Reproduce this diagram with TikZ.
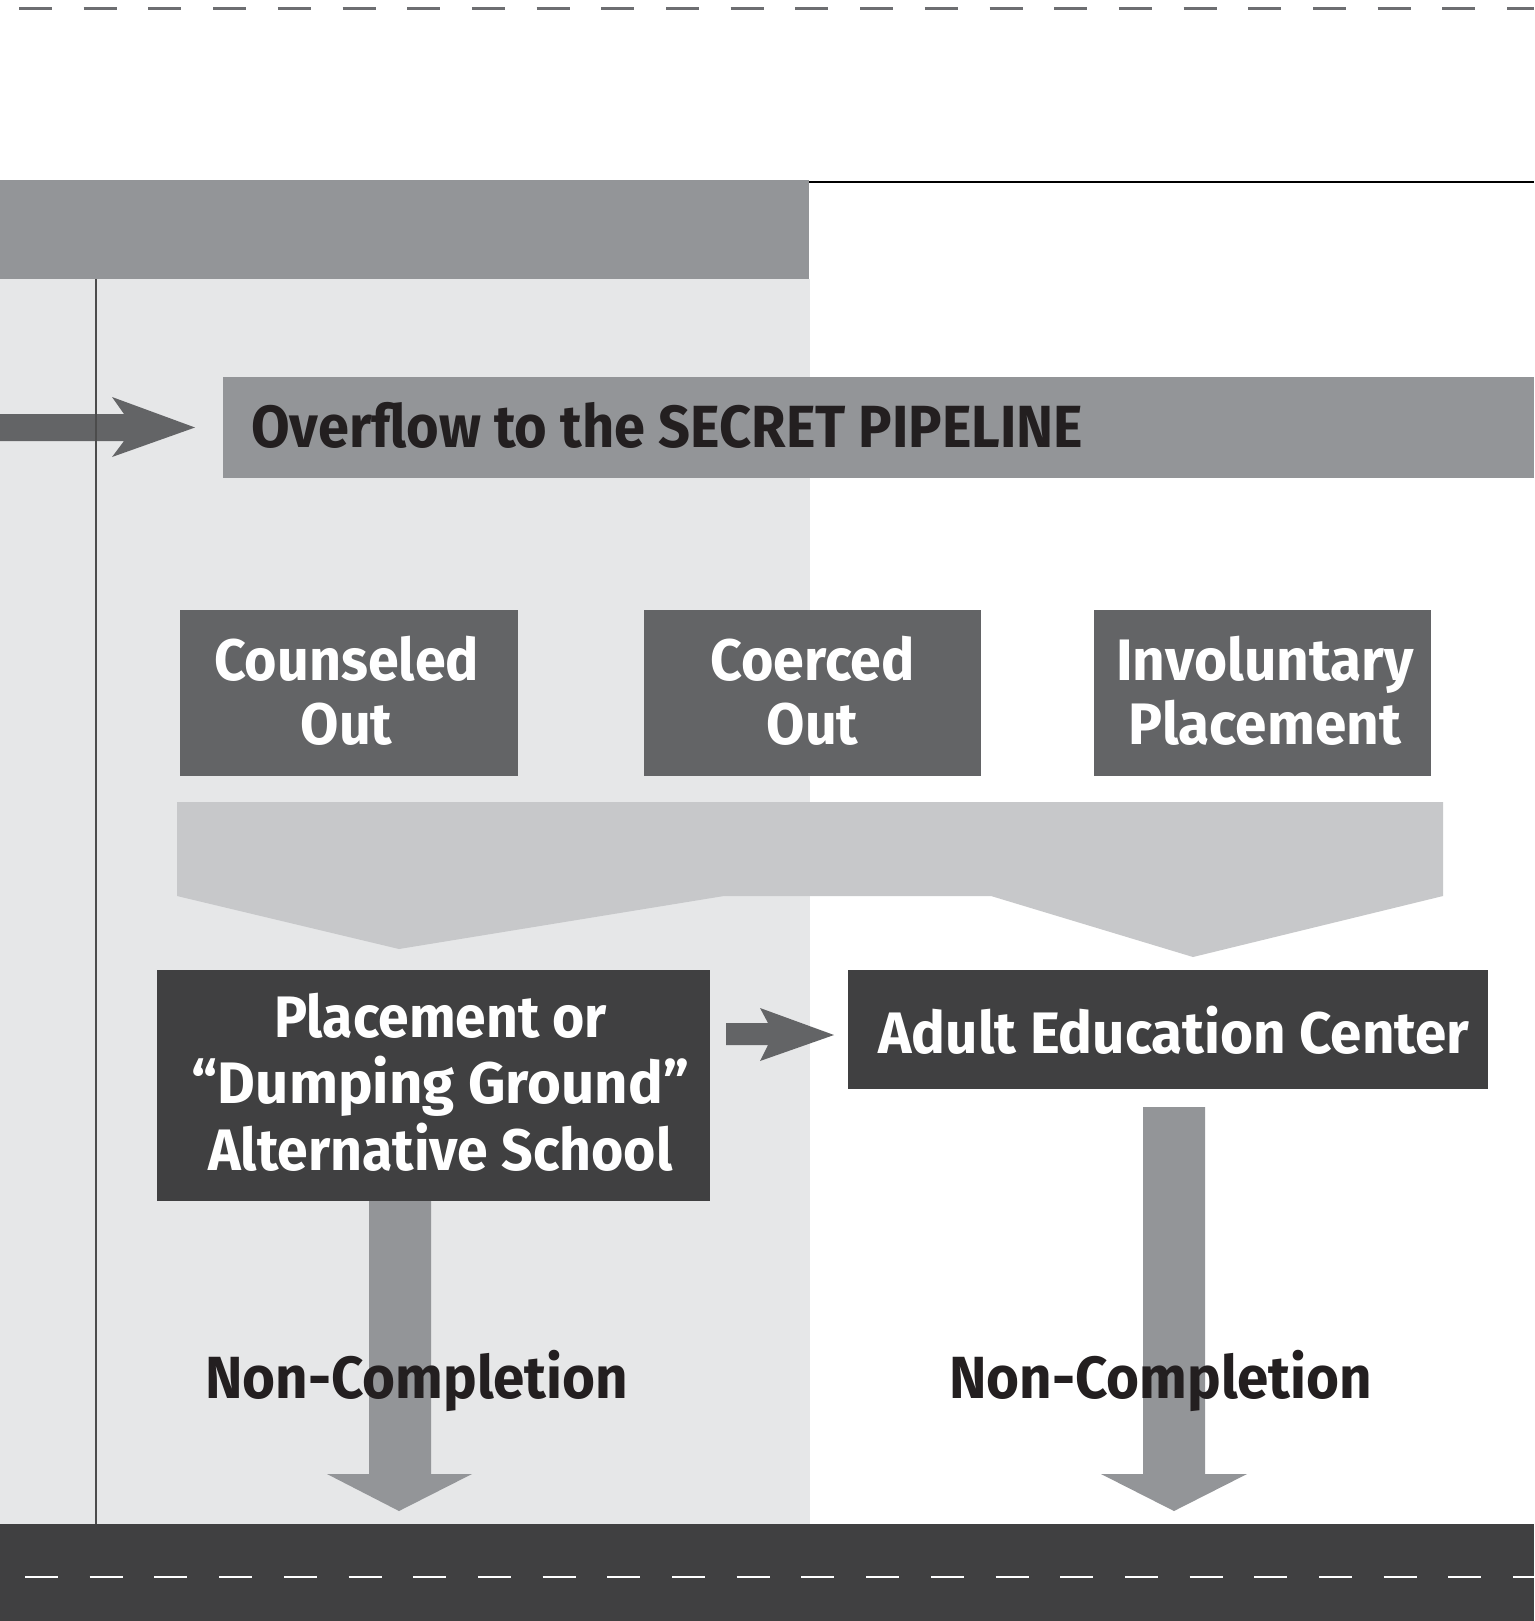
\documentclass[tikz,border=0pt]{standalone}
\usepackage{fontspec}
\setmainfont{Fira Sans}
\usepackage{graphicx}
\definecolor{hdrgray}{HTML}{939598}
\definecolor{bglight}{HTML}{E6E7E8}
\definecolor{midbox}{HTML}{636466}
\definecolor{chevgray}{HTML}{C7C8CA}
\definecolor{darkbox}{HTML}{404041}
\definecolor{dashgray}{HTML}{6D6E71}
\definecolor{inkdark}{HTML}{231F20}
\newcommand\sqz[2]{\scalebox{#1}[1]{#2}}
\tikzset{
  boxfont/.style={font=\fontsize{58.5}{64}\selectfont\bfseries},
  labfont/.style={font=\fontsize{59.5}{64}\selectfont\bfseries},
  midstep/.style={fill=midbox, inner sep=0pt},
  darkstep/.style={fill=darkbox, inner sep=0pt},
  boxtext/.style={text=white, boxfont, inner sep=0pt, anchor=base},
  darklabel/.style={text=inkdark, labfont, inner sep=0pt},
}
\begin{document}
\begin{tikzpicture}[x=1pt,y=-1pt]
\useasboundingbox (0,0) rectangle (1534,1621);
\fill[white] (0,0) rectangle (1534,1621);
% backgrounds
\fill[bglight] (0,279) rectangle (810,1524);
\fill[hdrgray] (0,180) rectangle (809,279);
\draw[line width=1.5pt, black] (809,182) -- (1534,182);
\fill[darkbox] (0,1524) rectangle (1534,1621);
\draw[dashgray, line width=2.7pt, dash pattern=on 33pt off 31.7pt] (19,8.3) -- (1534,8.3);
\draw[white, line width=2.7pt, dash pattern=on 33pt off 31.7pt] (25,1577) -- (1534,1577);
% overflow box
\node[fill=hdrgray, minimum width=1311, minimum height=101, inner sep=0pt, anchor=north west] (ovf) at (223,377) {};
\node[darklabel, anchor=base west] (ovftext) at (251,447) {\sqz{0.94}{Overflow to the SECRET PIPELINE}};
% overflow arrow
\fill[midbox] (0,414) -- (124,414) -- (112,397) -- (195,427.5) -- (112,457) -- (124,441) -- (0,441) -- cycle;
% vertical line
\draw[line width=1.3pt, black!70] (96,279) -- (96,1524);
% three boxes
\node[midstep, minimum width=338, minimum height=166] (couns) at (349,693) {};
\node[midstep, minimum width=337, minimum height=166] (coerc) at (812.5,693) {};
\node[midstep, minimum width=337, minimum height=166] (invol) at (1262.5,693) {};
\node[boxtext] (counst) at (346.5,680) {\sqz{0.95}{\begin{tabular}[t]{@{}c@{}}Counseled\\Out\end{tabular}}};
\node[boxtext] (coerct) at (812.5,680) {\sqz{0.95}{\begin{tabular}[t]{@{}c@{}}Coerced\\Out\end{tabular}}};
\node[boxtext] (involt) at (1265,680) {\sqz{0.97}{\begin{tabular}[t]{@{}c@{}}Involuntary\\Placement\end{tabular}}};
% chevron funnel
\fill[chevgray] (177,802) -- (1443,802) -- (1443,896) -- (1193,957) -- (991,896) -- (724,896) -- (399,949) -- (177,896) -- cycle;
% lower boxes
\node[darkstep, minimum width=553, minimum height=231] (alt) at (433.5,1085.5) {};
\node[darkstep, minimum width=640, minimum height=119] (adult) at (1168,1029.5) {};
\node[boxtext] (altt) at (440.5,1037) {\begin{tabular}[t]{@{}c@{}}\sqz{0.945}{Placement or}\\\sqz{0.993}{“Dumping Ground”}\\\sqz{0.947}{Alternative School}\end{tabular}};
\node[boxtext] (adultt) at (1174,1053) {\sqz{0.967}{Adult Education Center}};
% small arrow
\fill[midbox] (726,1023) -- (768,1023) -- (760,1008) -- (834,1035) -- (760,1061) -- (768,1045) -- (726,1045) -- cycle;
% down arrows
\fill[hdrgray] (369,1201) -- (431,1201) -- (431,1474) -- (472,1474) -- (399,1511) -- (327,1474) -- (369,1474) -- cycle;
\fill[hdrgray] (1143,1107) -- (1205,1107) -- (1205,1474) -- (1247,1474) -- (1174,1511) -- (1101,1474) -- (1143,1474) -- cycle;
% labels
\node[darklabel, anchor=base west] (nc1) at (205,1398) {\sqz{0.95}{Non-Completion}};
\node[darklabel, anchor=base west] (nc2) at (949,1398) {\sqz{0.95}{Non-Completion}};
\end{tikzpicture}
\end{document}
